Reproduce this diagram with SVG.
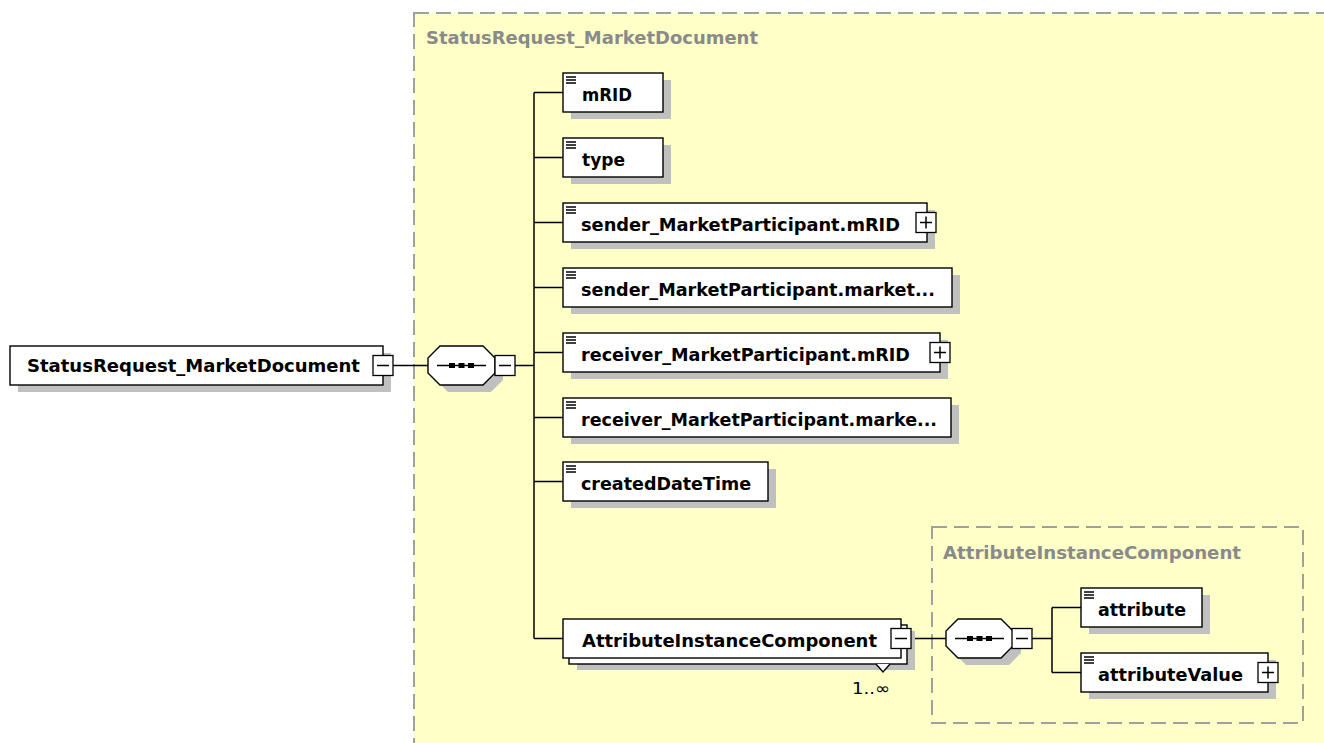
<svg xmlns="http://www.w3.org/2000/svg" width="1324" height="743" viewBox="0 0 1324 743">
<style>
.box{fill:#fff;stroke:#000;stroke-width:1.4}
.sh{fill:#c0c0c0}
.t{font-family:"DejaVu Sans",Tahoma,sans-serif;font-weight:bold;font-size:17.5px;fill:#000}
.ttl{font-family:"DejaVu Sans",Tahoma,sans-serif;font-weight:bold;font-size:17.5px;fill:#8a8a8a}
.grp{fill:#ffffc8;stroke:#a0a0a0;stroke-width:2;stroke-dasharray:15 7}
.ln{stroke:#000;stroke-width:1.5;fill:none}
.ic{stroke:#000;stroke-width:1.5}
.pm{fill:#fff;stroke:#000;stroke-width:1.3}
.occ{font-family:"DejaVu Sans",Tahoma,sans-serif;font-size:16px;fill:#000}
</style>
<defs>
<g id="icon"><line class="ic" x1="3" y1="4" x2="13" y2="4"/><line class="ic" x1="3" y1="7" x2="13" y2="7"/><line class="ic" x1="3" y1="10" x2="13" y2="10"/></g>
<g id="minus"><rect class="pm" x="-10" y="-10" width="20" height="20"/><line class="ln" x1="-6" y1="0" x2="6" y2="0"/></g>
<g id="plus"><rect class="pm" x="-10" y="-10" width="20" height="20"/><line class="ln" x1="-6" y1="0" x2="6" y2="0"/><line class="ln" x1="0" y1="-6" x2="0" y2="6"/></g>
<g id="seq">
<polygon class="sh" points="20,7 63,7 75,19 75,34 63,46 20,46 8,34 8,19"/>
<polygon class="box" points="12,0 55,0 67,12 67,27 55,39 12,39 0,27 0,12"/>
<line class="ln" x1="9" y1="19.5" x2="58" y2="19.5"/>
<rect x="21" y="17" width="6" height="5" fill="#000"/>
<rect x="30.5" y="17" width="6" height="5" fill="#000"/>
<rect x="40" y="17" width="6" height="5" fill="#000"/>
</g>
</defs>

<rect id="group-outer" class="grp" x="414" y="13" width="1000" height="800"/>
<text class="ttl" x="426" y="44" textLength="332" lengthAdjust="spacingAndGlyphs">StatusRequest_MarketDocument</text>
<rect id="group-inner" class="grp" x="932" y="527" width="371" height="196"/>
<text class="ttl" x="943" y="559" textLength="298" lengthAdjust="spacingAndGlyphs">AttributeInstanceComponent</text>

<g id="connectors">
<line class="ln" x1="393" y1="365.5" x2="428" y2="365.5"/>
<line class="ln" x1="515" y1="365.5" x2="534" y2="365.5"/>
<line class="ln" x1="534" y1="92.5" x2="534" y2="638.5"/>
<line class="ln" x1="534" y1="92.5" x2="563" y2="92.5"/>
<line class="ln" x1="534" y1="157.5" x2="563" y2="157.5"/>
<line class="ln" x1="534" y1="222.5" x2="563" y2="222.5"/>
<line class="ln" x1="534" y1="287.5" x2="563" y2="287.5"/>
<line class="ln" x1="534" y1="352.5" x2="563" y2="352.5"/>
<line class="ln" x1="534" y1="417.5" x2="563" y2="417.5"/>
<line class="ln" x1="534" y1="481.5" x2="563" y2="481.5"/>
<line class="ln" x1="534" y1="638.5" x2="563" y2="638.5"/>
<line class="ln" x1="911" y1="638.5" x2="946" y2="638.5"/>
<line class="ln" x1="1032" y1="638.5" x2="1052" y2="638.5"/>
<line class="ln" x1="1052" y1="607.5" x2="1052" y2="672.5"/>
<line class="ln" x1="1052" y1="607.5" x2="1081" y2="607.5"/>
<line class="ln" x1="1052" y1="672.5" x2="1081" y2="672.5"/>
</g>

<g id="root">
<rect class="sh" x="18" y="353" width="373" height="39"/>
<rect class="box" x="10" y="346" width="373" height="39"/>
<text class="t" x="27" y="372" textLength="333" lengthAdjust="spacingAndGlyphs">StatusRequest_MarketDocument</text>
<use href="#minus" x="383" y="365.5"/>
</g>

<g id="seq-main">
<use href="#seq" x="428" y="346"/>
<use href="#minus" x="505" y="365.5"/>
</g>

<g id="mRID">
<rect class="sh" x="571" y="80" width="100" height="39"/>
<rect class="box" x="563" y="73" width="100" height="39"/>
<use href="#icon" x="563" y="73"/>
<text class="t" x="582" y="101" textLength="50" lengthAdjust="spacingAndGlyphs">mRID</text>
</g>

<g id="type">
<rect class="sh" x="571" y="145" width="100" height="39"/>
<rect class="box" x="563" y="138" width="100" height="39"/>
<use href="#icon" x="563" y="138"/>
<text class="t" x="582" y="166" textLength="43" lengthAdjust="spacingAndGlyphs">type</text>
</g>

<g id="sender-mRID">
<rect class="sh" x="571" y="210" width="364" height="39"/>
<rect class="box" x="563" y="203" width="364" height="39"/>
<use href="#icon" x="563" y="203"/>
<text class="t" x="581" y="231" textLength="319" lengthAdjust="spacingAndGlyphs">sender_MarketParticipant.mRID</text>
<use href="#plus" x="926" y="222.5"/>
</g>

<g id="sender-market">
<rect class="sh" x="571" y="275" width="389" height="39"/>
<rect class="box" x="563" y="268" width="389" height="39"/>
<use href="#icon" x="563" y="268"/>
<text class="t" x="581" y="296" textLength="354" lengthAdjust="spacingAndGlyphs">sender_MarketParticipant.market...</text>
</g>

<g id="receiver-mRID">
<rect class="sh" x="571" y="340" width="377" height="39"/>
<rect class="box" x="563" y="333" width="377" height="39"/>
<use href="#icon" x="563" y="333"/>
<text class="t" x="581" y="361" textLength="329" lengthAdjust="spacingAndGlyphs">receiver_MarketParticipant.mRID</text>
<use href="#plus" x="940" y="352.5"/>
</g>

<g id="receiver-market">
<rect class="sh" x="571" y="405" width="388" height="39"/>
<rect class="box" x="563" y="398" width="388" height="39"/>
<use href="#icon" x="563" y="398"/>
<text class="t" x="581" y="426" textLength="356" lengthAdjust="spacingAndGlyphs">receiver_MarketParticipant.marke...</text>
</g>

<g id="createdDateTime">
<rect class="sh" x="571" y="469" width="205" height="39"/>
<rect class="box" x="563" y="462" width="205" height="39"/>
<use href="#icon" x="563" y="462"/>
<text class="t" x="581" y="490" textLength="170" lengthAdjust="spacingAndGlyphs">createdDateTime</text>
</g>

<g id="AttributeInstanceComponent">
<rect class="sh" x="577" y="631" width="338" height="39"/>
<rect class="box" x="569" y="625" width="338" height="39"/>
<rect class="box" x="563" y="619" width="338" height="39"/>
<text class="t" x="582" y="647" textLength="295" lengthAdjust="spacingAndGlyphs">AttributeInstanceComponent</text>
<polyline class="box" points="876,664 883,672 890,664"/>
<use href="#minus" x="901" y="638.5"/>
<text class="occ" x="852" y="694" textLength="38" lengthAdjust="spacingAndGlyphs">1..∞</text>
</g>

<g id="seq-inner">
<use href="#seq" x="946" y="619"/>
<use href="#minus" x="1022" y="638.5"/>
</g>

<g id="attribute">
<rect class="sh" x="1089" y="595" width="121" height="39"/>
<rect class="box" x="1081" y="588" width="121" height="39"/>
<use href="#icon" x="1081" y="588"/>
<text class="t" x="1098" y="616" textLength="88" lengthAdjust="spacingAndGlyphs">attribute</text>
</g>

<g id="attributeValue">
<rect class="sh" x="1089" y="660" width="187" height="39"/>
<rect class="box" x="1081" y="653" width="187" height="39"/>
<use href="#icon" x="1081" y="653"/>
<text class="t" x="1098" y="681" textLength="145" lengthAdjust="spacingAndGlyphs">attributeValue</text>
<use href="#plus" x="1268" y="672.5"/>
</g>
</svg>
